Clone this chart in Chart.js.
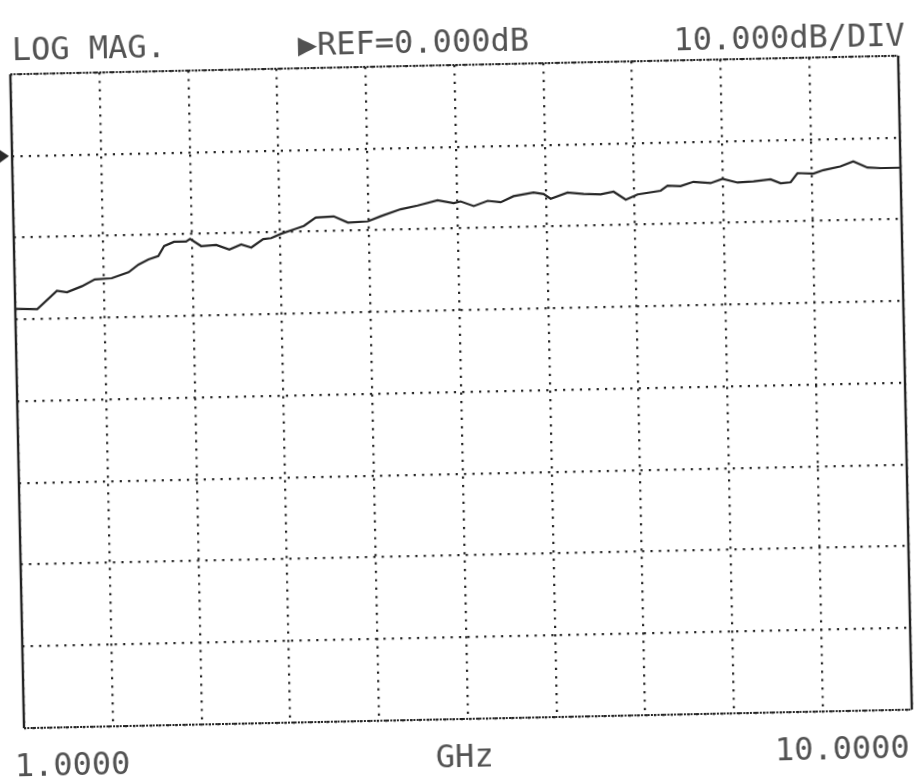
<!DOCTYPE html>
<html><head><meta charset="utf-8">
<script src="https://cdn.jsdelivr.net/npm/chart.js@4/dist/chart.umd.min.js"></script>
<style>
html,body{margin:0;padding:0;background:#fff;overflow:hidden;}
#wrap{position:absolute;left:0;top:0;width:916px;height:777px;transform:rotate(-1.2deg);transform-origin:458px 388px;}
#c{position:absolute;left:0;top:0;}
.t{position:absolute;font-family:"DejaVu Sans Mono",monospace;font-size:32px;line-height:32px;color:#525252;white-space:nowrap;}
</style></head><body>
<div id="wrap">
<canvas id="c" width="916" height="777"></canvas>
<div class="t" style="left:19px;top:24px">LOG MAG.</div>
<div class="t" style="left:305px;top:25px">▶REF=0.000dB</div>
<div class="t" style="right:4px;top:28px">10.000dB/DIV</div>
<div class="t" style="left:7px;top:740px">1.0000</div>
<div class="t" style="left:457px;top:740px;transform:translateX(-50%)">GHz</div>
<div class="t" style="right:14px;top:740px">10.0000</div>
</div>
<script>
const FREQ_GHZ = [1.000,1.223,1.426,1.528,1.680,1.812,1.984,2.157,2.258,2.360,2.461,2.522,2.623,2.745,2.786,2.897,3.050,3.182,3.303,3.405,3.527,3.608,3.709,3.841,3.943,4.064,4.247,4.389,4.592,4.724,4.927,5.099,5.302,5.465,5.536,5.668,5.810,5.942,6.073,6.276,6.378,6.449,6.621,6.784,6.956,7.088,7.210,7.331,7.565,7.636,7.767,7.899,8.072,8.194,8.346,8.508,8.681,8.782,8.884,8.955,9.117,9.219,9.391,9.523,9.665,9.797,10.000];
const MAG_DB = [-18.7,-18.8,-16.6,-16.8,-16.1,-15.3,-15.2,-14.5,-13.6,-13.0,-12.6,-11.4,-10.9,-10.9,-10.6,-11.5,-11.4,-12.0,-11.4,-11.8,-10.8,-10.7,-10.2,-9.7,-9.3,-8.3,-8.2,-9.0,-8.9,-8.3,-7.5,-7.1,-6.5,-6.9,-6.7,-7.3,-6.7,-6.9,-6.2,-5.8,-6.0,-6.6,-5.9,-6.1,-6.2,-5.9,-6.9,-6.3,-5.9,-5.3,-5.4,-4.9,-5.1,-4.6,-5.1,-5.0,-4.8,-5.3,-5.2,-4.1,-4.2,-3.8,-3.4,-2.8,-3.6,-3.7,-3.7];
// Grid divisions
const X_GRID_GHZ = [1.0,1.9,2.8,3.7,4.6,5.5,6.4,7.3,8.2,9.1,10.0];
const Y_GRID_DB = [10,0,-10,-20,-30,-40,-50,-60,-70];
const REF_DB = 0;

const framePlugin = {
  id:'frame',
  afterDraw(chart){
    const ctx = chart.ctx, a = chart.chartArea;
    ctx.save();
    ctx.strokeStyle = '#222';
    ctx.lineWidth = 2.4;
    ctx.beginPath();
    ctx.moveTo(a.left, a.top); ctx.lineTo(a.left, a.bottom);
    ctx.moveTo(a.right, a.top); ctx.lineTo(a.right, a.bottom);
    ctx.stroke();
    ctx.lineWidth = 2;
    ctx.setLineDash([2,1.3]);
    ctx.beginPath();
    ctx.moveTo(a.left, a.top); ctx.lineTo(a.right, a.top);
    ctx.moveTo(a.left, a.bottom); ctx.lineTo(a.right, a.bottom);
    ctx.stroke();
    ctx.setLineDash([]);
    const y0 = chart.scales.y.getPixelForValue(REF_DB);
    ctx.fillStyle = '#2a2a2a';
    ctx.beginPath();
    ctx.moveTo(a.left - 16, y0 - 9);
    ctx.lineTo(a.left - 3, y0);
    ctx.lineTo(a.left - 16, y0 + 9);
    ctx.closePath();
    ctx.fill();
    ctx.restore();
  }
};

new Chart(document.getElementById('c'), {
  type:'line',
  data:{datasets:[{
    data: FREQ_GHZ.map((f,i)=>({x:f, y:MAG_DB[i]})),
    borderColor:'#262626', borderWidth:2.2, pointRadius:0, tension:0, fill:false
  }]},
  options:{
    responsive:false, animation:false, events:[],
    layout:{padding:{left:17, top:65, right:11, bottom:58}},
    plugins:{legend:{display:false}, tooltip:{enabled:false}, title:{display:false}},
    scales:{
      x:{type:'linear', min:X_GRID_GHZ[0], max:X_GRID_GHZ[X_GRID_GHZ.length-1],
         afterBuildTicks:s=>{ s.ticks = X_GRID_GHZ.map(v=>({value:v})); },
         ticks:{display:false},
         grid:{color:'#262626', lineWidth:2.2, drawTicks:false},
         border:{display:false, dash:[2.2,6.2]}},
      y:{type:'linear', min:Y_GRID_DB[Y_GRID_DB.length-1], max:Y_GRID_DB[0],
         afterBuildTicks:s=>{ s.ticks = Y_GRID_DB.map(v=>({value:v})); },
         ticks:{display:false},
         grid:{color:'#262626', lineWidth:2.2, drawTicks:false},
         border:{display:false, dash:[2.2,6.2]}}
    }
  },
  plugins:[framePlugin]
});
</script>
</body></html>
